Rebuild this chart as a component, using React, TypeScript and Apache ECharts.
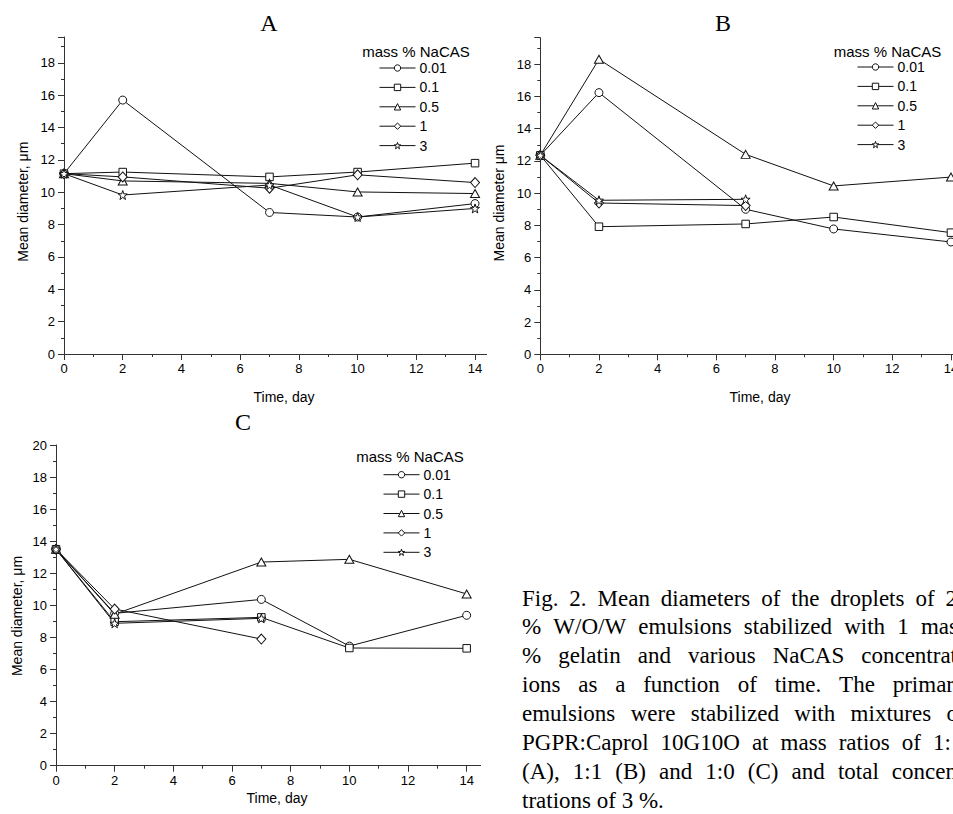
import React, { useEffect, useRef } from 'react';
import * as echarts from 'echarts';

// ---------- data ----------
const DAYS = [0, 2, 7, 10, 14];
const DAYS_SHORT = [0, 2, 7];
const LEGEND_NAMES = ['0.01', '0.1', '0.5', '1', '3'];
const X_TICK_LABELS = ['0', '2', '4', '6', '8', '10', '12', '14'];

// Panel A
const A_001 = [11.15, 15.7, 8.75, 8.47, 9.3];
const A_01 = [11.15, 11.25, 10.95, 11.25, 11.8];
const A_05 = [11.15, 10.7, 10.55, 10.02, 9.92];
const A_1 = [11.15, 10.95, 10.25, 11.08, 10.6];
const A_3 = [11.15, 9.83, 10.45, 8.47, 9.0];

// Panel B
const B_001 = [12.35, 16.24, 9.0, 7.78, 6.97];
const B_01 = [12.35, 7.92, 8.09, 8.52, 7.55];
const B_05 = [12.35, 18.31, 12.41, 10.45, 11.0];
const B_1 = [12.35, 9.39, 9.23];
const B_3 = [12.35, 9.56, 9.62];

// Panel C
const C_001 = [13.5, 9.5, 10.37, 7.46, 9.38];
const C_01 = [13.5, 8.98, 9.25, 7.34, 7.32];
const C_05 = [13.5, 9.45, 12.7, 12.87, 10.71];
const C_1 = [13.5, 9.77, 7.9];
const C_3 = [13.5, 8.88, 9.19];

const CAPTION_LINES = [
  'Fig. 2. Mean diameters of the droplets of 2',
  '% W/O/W emulsions stabilized with 1 mas',
  '% gelatin and various NaCAS concentrat',
  'ions as a function of time. The primar',
  'emulsions were stabilized with mixtures o',
  'PGPR:Caprol 10G10O at mass ratios of 1:',
  '(A), 1:1 (B) and 1:0 (C) and total concen',
  'trations of 3 %.',
];

// ---------- styling ----------
const SANS = '"Liberation Sans", Arial, sans-serif';
const SERIF = '"Liberation Serif", "Times New Roman", serif';
const AXIS_COLOR = '#333';
const LINE_COLOR = '#111';
const STAR =
  'path://M0,-10L2.35,-3.24L9.51,-3.09L3.8,1.24L5.88,8.09L0,4L-5.88,8.09L-3.8,1.24L-9.51,-3.09L-2.35,-3.24Z';
const SYMBOLS: any[] = ['circle', 'rect', 'triangle', 'diamond', STAR];
const SYMBOL_SIZES: any[] = [8, 7.5, [9, 8], [9, 10], 9];

type PanelSpec = {
  wrap: { left: number; top: number; width: number; height: number };
  chartW: number;
  chartH: number;
  grid: { left: number; top: number; width: number; height: number };
  yMax: number;
  showMaxY: boolean;
  letter: { text: string; x: number; y: number };
  yName: { text: string; x: number; y: number };
  xName: { x: number; y: number };
  legend: { left: number; top: number };
  legendTitle: { x: number; y: number };
  series: { xs: number[]; ys: number[] }[];
};

const PANELS: PanelSpec[] = [
  {
    wrap: { left: 0, top: 0, width: 487, height: 405 },
    chartW: 560,
    chartH: 405,
    grid: { left: 64, top: 37, width: 440.4, height: 317 },
    yMax: 19.6,
    showMaxY: false,
    letter: { text: 'A', x: 269, y: 22.5 },
    yName: { text: 'Mean diameter, μm', x: 23, y: 201.7 },
    xName: { x: 284, y: 397 },
    legend: { left: 379, top: 61 },
    legendTitle: { x: 416, y: 51 },
    series: [
      { xs: DAYS, ys: A_001 },
      { xs: DAYS, ys: A_01 },
      { xs: DAYS, ys: A_05 },
      { xs: DAYS, ys: A_1 },
      { xs: DAYS, ys: A_3 },
    ],
  },
  {
    wrap: { left: 487, top: 0, width: 466, height: 405 },
    chartW: 540,
    chartH: 405,
    grid: { left: 53.3, top: 37.7, width: 440, height: 316.6 },
    yMax: 19.65,
    showMaxY: false,
    letter: { text: 'B', x: 236, y: 22.5 },
    yName: { text: 'Mean diameter μm', x: 12, y: 203 },
    xName: { x: 273, y: 397 },
    legend: { left: 370, top: 60 },
    legendTitle: { x: 400.5, y: 51 },
    series: [
      { xs: DAYS, ys: B_001 },
      { xs: DAYS, ys: B_01 },
      { xs: DAYS, ys: B_05 },
      { xs: DAYS_SHORT, ys: B_1 },
      { xs: DAYS_SHORT, ys: B_3 },
    ],
  },
  {
    wrap: { left: 0, top: 405, width: 481, height: 409 },
    chartW: 540,
    chartH: 409,
    grid: { left: 56, top: 40, width: 440, height: 320.7 },
    yMax: 20,
    showMaxY: true,
    letter: { text: 'C', x: 243, y: 17 },
    yName: { text: 'Mean diameter, μm', x: 16.7, y: 211 },
    xName: { x: 277, y: 393 },
    legend: { left: 383, top: 62.7 },
    legendTitle: { x: 410, y: 51 },
    series: [
      { xs: DAYS, ys: C_001 },
      { xs: DAYS, ys: C_01 },
      { xs: DAYS, ys: C_05 },
      { xs: DAYS_SHORT, ys: C_1 },
      { xs: DAYS_SHORT, ys: C_3 },
    ],
  },
];

function buildOption(p: PanelSpec): any {
  const axisCommon = {
    type: 'value',
    axisLine: { show: true, onZero: false, lineStyle: { color: AXIS_COLOR, width: 1 } },
    axisTick: { show: true, inside: false, length: 6, lineStyle: { color: AXIS_COLOR, width: 1 } },
    minorTick: { show: true, splitNumber: 2, length: 3, lineStyle: { color: AXIS_COLOR, width: 1 } },
    splitLine: { show: false },
    minorSplitLine: { show: false },
  };
  return {
    animation: false,
    backgroundColor: '#fff',
    grid: { ...p.grid, containLabel: false },
    xAxis: {
      ...axisCommon,
      min: 0,
      max: 15,
      interval: 2,
      axisLabel: {
        fontSize: 13,
        color: '#000',
        fontFamily: SANS,
        margin: 8,
        showMaxLabel: false,
        formatter: (v: number) => (X_TICK_LABELS.includes(String(v)) ? String(v) : ''),
      },
    },
    yAxis: {
      ...axisCommon,
      min: 0,
      max: p.yMax,
      interval: 2,
      axisLabel: {
        fontSize: 13,
        color: '#000',
        fontFamily: SANS,
        margin: 9,
        showMaxLabel: p.showMaxY,
      },
    },
    legend: {
      show: true,
      orient: 'vertical',
      left: p.legend.left,
      top: p.legend.top,
      padding: 0,
      itemWidth: 36,
      itemHeight: 8,
      itemGap: 5.4,
      data: LEGEND_NAMES,
      itemStyle: { color: '#fff', borderColor: LINE_COLOR, borderWidth: 1 },
      lineStyle: { color: LINE_COLOR, width: 1 },
      textStyle: { fontSize: 14, fontFamily: SANS, color: '#000', padding: [0, 0, 0, -1] },
    },
    graphic: [
      {
        type: 'text',
        x: p.letter.x,
        y: p.letter.y,
        style: {
          text: p.letter.text,
          fontSize: 24,
          fontFamily: SERIF,
          fill: '#000',
          align: 'center',
          verticalAlign: 'middle',
        },
      },
      {
        type: 'text',
        x: p.yName.x,
        y: p.yName.y,
        rotation: Math.PI / 2,
        style: {
          text: p.yName.text,
          fontSize: 14,
          fontFamily: SANS,
          fill: '#000',
          align: 'center',
          verticalAlign: 'middle',
        },
      },
      {
        type: 'text',
        x: p.xName.x,
        y: p.xName.y,
        style: {
          text: 'Time, day',
          fontSize: 14,
          fontFamily: SANS,
          fill: '#000',
          align: 'center',
          verticalAlign: 'middle',
        },
      },
      {
        type: 'text',
        x: p.legendTitle.x,
        y: p.legendTitle.y,
        style: {
          text: 'mass % NaCAS',
          fontSize: 15,
          fontFamily: SANS,
          fill: '#000',
          align: 'center',
          verticalAlign: 'middle',
        },
      },
    ],
    series: p.series.map((s, i) => ({
      type: 'line',
      name: LEGEND_NAMES[i],
      data: s.xs.map((x, j) => [x, s.ys[j]]),
      symbol: SYMBOLS[i],
      symbolSize: SYMBOL_SIZES[i],
      showAllSymbol: true,
      color: LINE_COLOR,
      lineStyle: { color: LINE_COLOR, width: 1 },
      itemStyle: { color: '#fff', borderColor: LINE_COLOR, borderWidth: 1 },
      emphasis: { disabled: true },
      z: 2,
    })),
  };
}

function Panel({ spec }: { spec: PanelSpec }) {
  const ref = useRef<HTMLDivElement>(null);
  useEffect(() => {
    if (!ref.current) return;
    const chart = echarts.init(ref.current, undefined, { renderer: 'svg' });
    chart.setOption(buildOption(spec));
    return () => chart.dispose();
  }, [spec]);
  return (
    <div
      style={{
        position: 'absolute',
        left: spec.wrap.left,
        top: spec.wrap.top,
        width: spec.wrap.width,
        height: spec.wrap.height,
        overflow: 'hidden',
      }}
    >
      <div ref={ref} style={{ width: spec.chartW, height: spec.chartH }} />
    </div>
  );
}

// caption layout (page coordinates)
const CAP_BOX = { left: 482, top: 560, width: 471, height: 254 };
const CAP_LEFT = 522;
const CAP_RIGHTS = [957, 958, 957, 954, 958, 951, 957];
const CAP_FIRST_Y = 598;
const CAP_LINE_GAP = 28.9;
const CAP_FONT = 23;

function Caption() {
  const ref = useRef<HTMLDivElement>(null);
  useEffect(() => {
    if (!ref.current) return;
    const chart = echarts.init(ref.current, undefined, { renderer: 'svg' });
    const canvas = document.createElement('canvas');
    const ctx = canvas.getContext('2d')!;
    ctx.font = `${CAP_FONT}px "Liberation Serif"`;
    const spaceW = ctx.measureText(' ').width;
    const elements: any[] = [];
    CAPTION_LINES.forEach((line, li) => {
      const words = line.split(' ');
      const widths = words.map((w) => ctx.measureText(w).width);
      const total = widths.reduce((a, b) => a + b, 0);
      let gap = spaceW;
      if (li < CAP_RIGHTS.length && words.length > 1) {
        gap = (CAP_RIGHTS[li] - CAP_LEFT - total) / (words.length - 1);
      }
      let x = CAP_LEFT - CAP_BOX.left;
      const y = CAP_FIRST_Y + li * CAP_LINE_GAP - CAP_BOX.top;
      words.forEach((w, wi) => {
        elements.push({
          type: 'text',
          x,
          y,
          style: {
            text: w,
            fontSize: CAP_FONT,
            fontFamily: SERIF,
            fill: '#000',
            align: 'left',
            verticalAlign: 'middle',
          },
        });
        x += widths[wi] + gap;
      });
    });
    chart.setOption({ animation: false, graphic: elements });
    return () => chart.dispose();
  }, []);
  return (
    <div
      style={{
        position: 'absolute',
        left: CAP_BOX.left,
        top: CAP_BOX.top,
        width: CAP_BOX.width,
        height: CAP_BOX.height,
        overflow: 'hidden',
      }}
    >
      <div ref={ref} style={{ width: CAP_BOX.width, height: CAP_BOX.height }} />
    </div>
  );
}

export default function App() {
  return (
    <div
      style={{
        position: 'absolute',
        left: 0,
        top: 0,
        width: 953,
        height: 814,
        overflow: 'hidden',
        background: '#fff',
      }}
    >
      {PANELS.map((p, i) => (
        <Panel key={i} spec={p} />
      ))}
      <Caption />
    </div>
  );
}
